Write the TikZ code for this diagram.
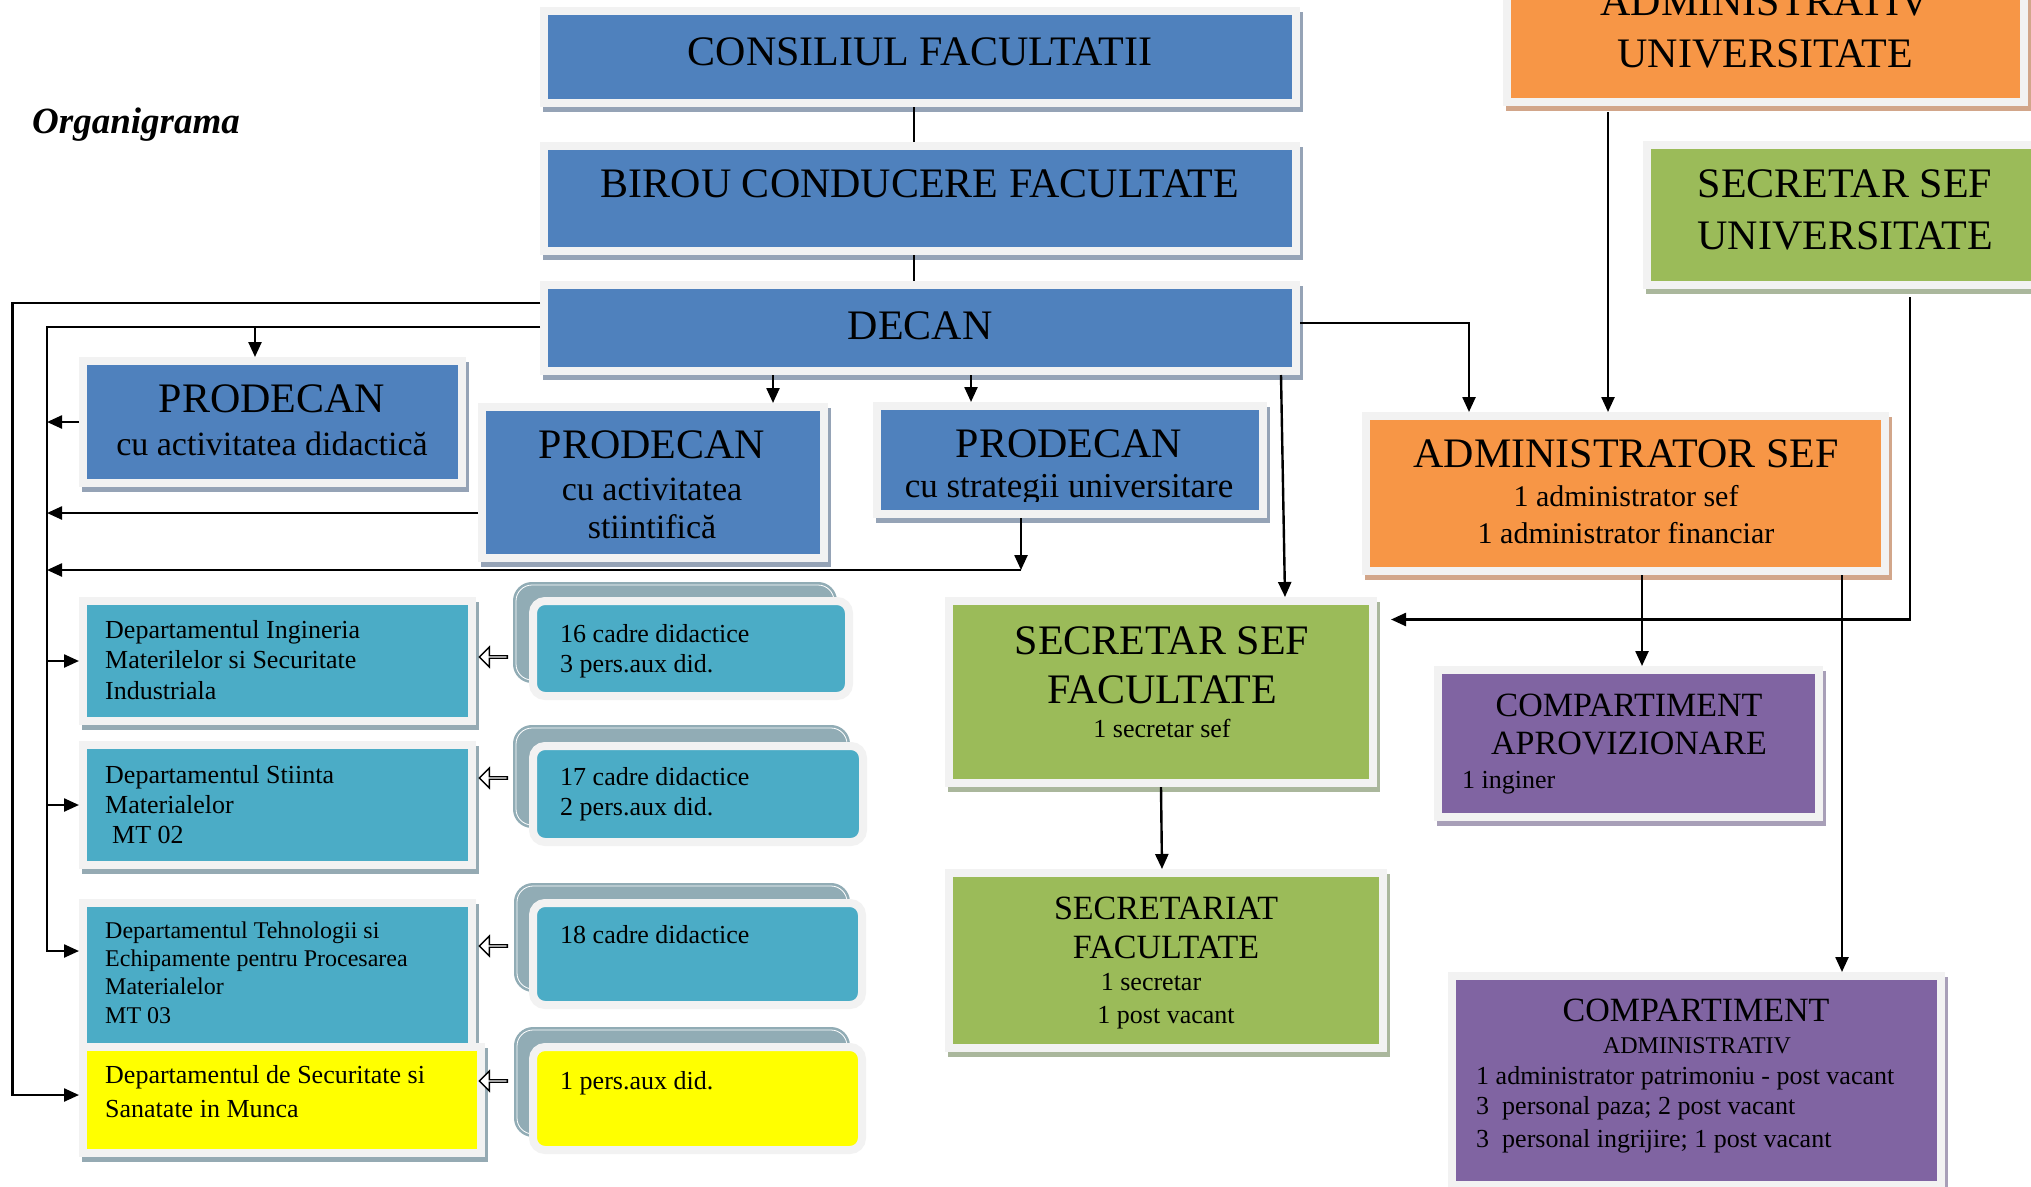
\documentclass[tikz,border=0pt]{standalone}
\usepackage{fontspec}
\setmainfont{Liberation Serif}
\usetikzlibrary{arrows.meta,shapes.arrows}
\definecolor{frm}{HTML}{F2F2F2}
\definecolor{cblue}{HTML}{4F81BD}
\definecolor{sblue}{HTML}{95A3B6}
\definecolor{corange}{HTML}{F79646}
\definecolor{sorange}{HTML}{D2A68A}
\definecolor{cgreen}{HTML}{9BBB59}
\definecolor{sgreen}{HTML}{AAB79C}
\definecolor{cpurple}{HTML}{8064A2}
\definecolor{spurple}{HTML}{A89FB8}
\definecolor{cteal}{HTML}{4BACC6}
\definecolor{steal}{HTML}{95AAB3}
\definecolor{cyellow}{HTML}{FFFF00}
\definecolor{cback}{HTML}{91ACB5}
\tikzset{
  box/.style 2 args={rectangle, fill=#1, draw=frm, line width=8pt, inner sep=0pt,
     preaction={fill=#2, draw=#2, line width=8pt, transform canvas={xshift=3pt,yshift=-5pt}}},
  statbox/.style={rectangle, fill=#1, draw=frm, line width=8pt, rounded corners=12pt, inner sep=0pt},
  backbox/.style={rectangle, fill=cback, draw=cback, double=white, double distance=0.8pt, line width=2.6pt, rounded corners=16pt, inner sep=0pt},
  harr/.style={single arrow, draw=black, fill=white, line width=1.4pt, minimum height=28pt, minimum width=20pt, single arrow head extend=5pt, single arrow head indent=0pt, shape border rotate=180, inner sep=0pt},
  conn/.style={line width=2.4pt},
  arr/.style={line width=2.4pt, -{Triangle[length=15pt,width=13pt]}},
  tc/.style={anchor=base, inner sep=0pt},
  tl/.style={anchor=base west, inner sep=0pt},
  fA/.style={font=\fontsize{42}{50}\selectfont},
  fB/.style={font=\fontsize{34}{40}\selectfont},
  fS/.style={font=\fontsize{35}{40}\selectfont},
  fC/.style={font=\fontsize{30}{36}\selectfont},
  fD/.style={font=\fontsize{26}{30}\selectfont},
  fE/.style={font=\fontsize{24}{28}\selectfont},
}
\begin{document}
\begin{tikzpicture}[x=1pt,y=-1pt]
\useasboundingbox (0,0) rectangle (2031,1186);
\clip (0,0) rectangle (2031,1186);
\fill[white] (0,0) rectangle (2031,1186);

\node[tl, font=\fontsize{37}{44}\selectfont\bfseries\itshape] (title) at (32,133) {Organigrama};

% top blue column
\node[box={cblue}{sblue}, minimum width=752pt, minimum height=92pt] (cons) at (920,57) {};
\node[tc,fA] (consT) at (920,65) {CONSILIUL FACULTATII};
\node[box={cblue}{sblue}, minimum width=752pt, minimum height=105pt] (birou) at (920,198.5) {};
\node[tc,fA] (birouT) at (920,197) {BIROU CONDUCERE FACULTATE};
\node[box={cblue}{sblue}, minimum width=752pt, minimum height=86pt] (decan) at (920,328) {};
\node[tc,fA] (decanT) at (920,339) {DECAN};

% prodecani
\node[box={cblue}{sblue}, minimum width=379pt, minimum height=122pt] (prodDid) at (272.5,422) {};
\node[tc,fA] (prodDidT1) at (272,412) {PRODECAN};
\node[tc,fB] (prodDidT2) at (272,455) {cu activitatea didactică};
\node[box={cblue}{sblue}, minimum width=342pt, minimum height=151pt] (prodSti) at (653,482.5) {};
\node[tc,fA] (prodStiT1) at (652,458) {PRODECAN};
\node[tc,fB] (prodStiT2) at (652,500) {cu activitatea};
\node[tc,fB] (prodStiT3) at (652,538) {stiintifică};
\node[box={cblue}{sblue}, minimum width=386pt, minimum height=108pt] (prodStr) at (1070,460) {};
\node[tc,fA] (prodStrT1) at (1069,457) {PRODECAN};
\begin{scope}
\clip (875,470) rectangle (1265,501);
\node[tc,fS] (prodStrT2) at (1069,497) {cu strategii universitare};
\end{scope}

% right side
\node[box={corange}{sorange}, minimum width=517pt, minimum height=158pt] (adminUniv) at (1765.5,23) {};
\node[tc,fA] (adminUnivT1) at (1765,15) {ADMINISTRATIV};
\node[tc,fA] (adminUnivT2) at (1765,67) {UNIVERSITATE};
\node[box={cgreen}{sgreen}, minimum width=396pt, minimum height=140pt] (secUniv) at (1845,215) {};
\node[tc,fA] (secUnivT1) at (1845,197) {SECRETAR SEF};
\node[tc,fA] (secUnivT2) at (1845,249) {UNIVERSITATE};
\node[box={corange}{sorange}, minimum width=519pt, minimum height=155pt] (adminSef) at (1625.5,493.5) {};
\node[tc,fA] (adminSefT1) at (1626,467) {ADMINISTRATOR SEF};
\node[tc,fC] (adminSefT2) at (1626,506) {1 administrator sef};
\node[tc,fC] (adminSefT3) at (1626,543) {1 administrator financiar};
\node[box={cpurple}{spurple}, minimum width=381pt, minimum height=147pt] (aprov) at (1628.5,743.5) {};
\node[tc,fB] (aprovT1) at (1629,716) {COMPARTIMENT};
\node[tc,fB] (aprovT2) at (1629,754) {APROVIZIONARE};
\node[tl,fD] (aprovT3) at (1462,788) {1 inginer};
\node[box={cpurple}{spurple}, minimum width=489pt, minimum height=209pt] (compAdm) at (1696.5,1080.5) {};
\node[tc,fB] (compAdmT1) at (1696,1021) {COMPARTIMENT};
\node[tc,fE] (compAdmT2) at (1697,1053) {ADMINISTRATIV};
\node[tl,fD] (compAdmT3) at (1476,1084) {1 administrator patrimoniu - post vacant};
\node[tl,fD] (compAdmT4) at (1476,1114) {3~~personal paza; 2 post vacant};
\node[tl,fD] (compAdmT5) at (1476,1147) {3~~personal ingrijire; 1 post vacant};

% secretariat
\node[box={cgreen}{sgreen}, minimum width=424pt, minimum height=182pt] (secSefFac) at (1161,692) {};
\node[tc,fA] (secSefFacT1) at (1162,654) {SECRETAR SEF};
\node[tc,fA] (secSefFacT2) at (1162,703) {FACULTATE};
\node[tc,fD] (secSefFacT3) at (1162,737) {1 secretar sef};
\node[box={cgreen}{sgreen}, minimum width=434pt, minimum height=175pt] (secFac) at (1166,960.5) {};
\node[tc,fB] (secFacT1) at (1166,919) {SECRETARIAT};
\node[tc,fB] (secFacT2) at (1166,958) {FACULTATE};
\node[tc,fD] (secFacT3) at (1151,990) {1 secretar};
\node[tc,fD] (secFacT4) at (1166,1023) {1 post vacant};

% stats boxes
\node[backbox, minimum width=318pt, minimum height=95pt] (s1b) at (675,632.5) {};
\node[statbox=cteal, minimum width=316pt, minimum height=95pt] (s1) at (691,648.5) {};
\node[tl,fD] (s1T1) at (560,642) {16 cadre didactice};
\node[tl,fD] (s1T2) at (560,672) {3 pers.aux did.};
\node[backbox, minimum width=331pt, minimum height=97pt] (s2b) at (681.5,776.5) {};
\node[statbox=cteal, minimum width=330pt, minimum height=96pt] (s2) at (698,794) {};
\node[tl,fD] (s2T1) at (560,785) {17 cadre didactice};
\node[tl,fD] (s2T2) at (560,815) {2 pers.aux did.};
\node[backbox, minimum width=330pt, minimum height=103pt] (s3b) at (682,937.5) {};
\node[statbox=cteal, minimum width=329pt, minimum height=102pt] (s3) at (697.5,954) {};
\node[tl,fD] (s3T1) at (560,943) {18 cadre didactice};
\node[backbox, minimum width=330pt, minimum height=104pt] (s4b) at (682,1082) {};
\node[statbox=cyellow, minimum width=329pt, minimum height=103pt] (s4) at (697.5,1098.5) {};
\node[tl,fD] (s4T1) at (560,1089) {1 pers.aux did.};

% departments
\node[box={cteal}{steal}, minimum width=389pt, minimum height=120pt] (dept1) at (277.5,661) {};
\node[tl,fD] (dept1T1) at (105,638) {Departamentul Ingineria};
\node[tl,fD] (dept1T2) at (105,668) {Materilelor si Securitate};
\node[tl,fD] (dept1T3) at (105,699) {Industriala};
\node[box={cteal}{steal}, minimum width=389pt, minimum height=120pt] (dept2) at (277.5,805) {};
\node[tl,fD] (dept2T1) at (105,783) {Departamentul Stiinta};
\node[tl,fD] (dept2T2) at (105,813) {Materialelor};
\node[tl,fD] (dept2T3) at (112,843) {MT 02};
\node[box={cteal}{steal}, minimum width=389pt, minimum height=144pt] (dept3) at (277.5,975) {};
\node[tl,fE] (dept3T1) at (105,938) {Departamentul Tehnologii si};
\node[tl,fE] (dept3T2) at (105,966) {Echipamente pentru Procesarea};
\node[tl,fE] (dept3T3) at (105,994) {Materialelor};
\node[tl,fE] (dept3T4) at (105,1023) {MT 03};
\node[box={cyellow}{steal}, minimum width=398pt, minimum height=106pt] (dept4) at (282,1100) {};
\node[tl,fD] (dept4T1) at (105,1083) {Departamentul de Securitate si};
\node[tl,fD] (dept4T2) at (105,1117) {Sanatate in Munca};

% hollow arrows
\node[harr] (h1) at (494,657) {};
\node[harr] (h2) at (494,778) {};
\node[harr] (h3) at (494,946) {};
\node[harr] (h4) at (494,1081) {};

% coordinates
\coordinate (oTop) at (12.6,303);
\coordinate (oBot) at (12.6,1095);
\coordinate (iTop) at (47,327);
\coordinate (iBot) at (47,951);
\coordinate (cStr) at (1021,570);
\coordinate (aSti) at ([yshift=-30.5pt]prodSti.west);
\coordinate (dS1) at ([xshift=-147pt]decan.south);
\coordinate (dDid) at ([xshift=-17.5pt]prodDid.north);

% connectors
\draw[conn,line width=1.6pt] ([xshift=-6pt]cons.south) -- ([xshift=-6pt]birou.north);
\draw[conn,line width=1.6pt] ([xshift=-6pt]birou.south) -- ([xshift=-6pt]decan.north);
\draw[arr] (decan.west |- oTop) -- (oTop) -- (oBot) -- (dept4.west |- oBot);
\draw[arr] (decan.west |- iTop) -- (iTop) -- (iBot) -- (dept3.west |- iBot);
\draw[arr] (dDid |- iTop) -- (dDid);
\draw[arr] (prodDid.west) -- (iTop |- prodDid.west);
\draw[arr] (aSti) -- (iTop |- aSti);
\draw[arr] (iTop |- dept1.west) -- (dept1.west);
\draw[arr] (iTop |- dept2.west) -- (dept2.west);
\draw[arr] ([xshift=-49pt]prodStr.south) -- (cStr);
\draw[arr] (cStr) -- (iTop |- cStr);
\draw[arr] (dS1) -- (dS1 |- prodSti.north);
\draw[arr] ([xshift=51pt]decan.south) -- ([xshift=-99pt]prodStr.north);
\draw[arr] ([xshift=361pt]decan.south) -- ([xshift=124pt]secSefFac.north);
\draw[arr] ([yshift=5pt]decan.east) -| ([xshift=-156.5pt]adminSef.north);
\draw[arr] ([xshift=-157.5pt,yshift=-6pt]adminUniv.south) -- ([xshift=-17.5pt]adminSef.north);
\draw[arr] ([xshift=65pt,yshift=-8pt]secUniv.south) |- ([xshift=14pt,yshift=72.5pt]secSefFac.east);
\draw[arr] ([xshift=16.5pt]adminSef.south) -- ([xshift=13.5pt]aprov.north);
\draw[arr] ([xshift=216.5pt]adminSef.south) -- ([xshift=145.5pt]compAdm.north);
\draw[arr] (secSefFac.south) -- ([xshift=-4pt]secFac.north);
\end{tikzpicture}
\end{document}
